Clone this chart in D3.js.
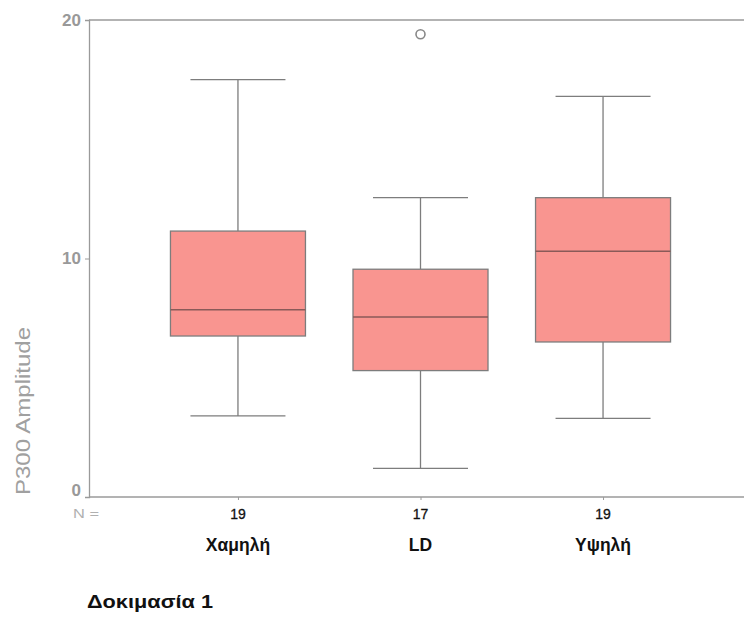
<!DOCTYPE html>
<html><head><meta charset="utf-8">
<script src="https://cdn.jsdelivr.net/npm/d3@7"></script>
<style>body{margin:0;background:#fff;overflow:hidden}svg{display:block}</style>
</head><body>
<script>
const categories = ["Χαμηλή", "LD", "Υψηλή"];
const counts = [19, 17, 19];
const whiskerLow = [3.4, 1.2, 3.3];
const q1 = [6.75, 5.3, 6.5];
const medians = [7.85, 7.55, 10.3];
const q3 = [11.15, 9.55, 12.55];
const whiskerHigh = [17.5, 12.55, 16.8];
const outliers = [[], [19.4], []];
const yTicks = [0, 10, 20];

const W = 744, H = 620;
const FONT = "Arial, Liberation Sans, sans-serif";
const svg = d3.select("body").append("svg").attr("width", W).attr("height", H);
const mLeft = 89, mRight = 752, mTop = 20, mBottom = 497;
const y = d3.scaleLinear().domain([0, 20]).range([mBottom, mTop]);
const x = d3.scalePoint().domain(categories).range([mLeft, mRight]).padding(0.816);
const boxW = 135, capW = 95;
const lineCol = "#7d7d7d";

svg.append("line").attr("x1", mLeft).attr("x2", mRight).attr("y1", mTop).attr("y2", mTop).attr("stroke", "#9a9a9a").attr("stroke-width", 1.3);
svg.append("line").attr("x1", mLeft).attr("x2", mRight).attr("y1", mBottom).attr("y2", mBottom).attr("stroke", "#9a9a9a").attr("stroke-width", 1.3);

const yAxis = svg.append("g").attr("transform", `translate(${mLeft},0)`)
  .call(d3.axisLeft(y).tickValues(yTicks).tickSize(4).tickPadding(4));
yAxis.select(".domain").attr("stroke", "#9a9a9a").attr("stroke-width", 1.3);
yAxis.selectAll(".tick line").attr("stroke", "#9a9a9a");
yAxis.selectAll(".tick text").attr("fill", "#999").attr("font-family", FONT).attr("font-size", 17).attr("font-weight", "bold")
  .attr("dy", d => d === 0 ? "-0.1em" : "0.32em");

const xAxis = svg.append("g").attr("transform", `translate(0,${mBottom})`)
  .call(d3.axisBottom(x).tickSize(3).tickFormat(""));
xAxis.select(".domain").remove();
xAxis.selectAll(".tick line").attr("stroke", "#9a9a9a");

svg.append("text").attr("transform", `translate(30,411) rotate(-90)`).attr("text-anchor", "middle")
  .attr("font-family", FONT).attr("font-size", 20).attr("fill", "#a0a0a0")
  .attr("textLength", 168).attr("lengthAdjust", "spacingAndGlyphs").text("P300 Amplitude");

const g = svg.append("g");
categories.forEach((c, i) => {
  const cx = x(c);
  g.append("line").attr("x1", cx).attr("x2", cx).attr("y1", y(whiskerHigh[i])).attr("y2", y(q3[i])).attr("stroke", lineCol).attr("stroke-width", 1.3);
  g.append("line").attr("x1", cx).attr("x2", cx).attr("y1", y(q1[i])).attr("y2", y(whiskerLow[i])).attr("stroke", lineCol).attr("stroke-width", 1.3);
  g.append("line").attr("x1", cx - capW/2).attr("x2", cx + capW/2).attr("y1", y(whiskerHigh[i])).attr("y2", y(whiskerHigh[i])).attr("stroke", lineCol).attr("stroke-width", 1.3);
  g.append("line").attr("x1", cx - capW/2).attr("x2", cx + capW/2).attr("y1", y(whiskerLow[i])).attr("y2", y(whiskerLow[i])).attr("stroke", lineCol).attr("stroke-width", 1.3);
  g.append("rect").attr("x", cx - boxW/2).attr("width", boxW).attr("y", y(q3[i])).attr("height", y(q1[i]) - y(q3[i]))
    .attr("fill", "#f99590").attr("stroke", lineCol).attr("stroke-width", 1.3);
  g.append("line").attr("x1", cx - boxW/2).attr("x2", cx + boxW/2).attr("y1", y(medians[i])).attr("y2", y(medians[i])).attr("stroke", "#8a5a58").attr("stroke-width", 1.5);
  outliers[i].forEach(v => {
    g.append("circle").attr("cx", cx).attr("cy", y(v)).attr("r", 4.5).attr("fill", "none").attr("stroke", "#888").attr("stroke-width", 1.6);
  });
  svg.append("text").attr("x", cx).attr("y", 519).attr("text-anchor", "middle").attr("font-family", FONT)
    .attr("font-size", 14).attr("fill", "#111").attr("stroke", "#111").attr("stroke-width", 0.3).text(counts[i]);
  svg.append("text").attr("x", cx).attr("y", 551).attr("text-anchor", "middle").attr("font-family", FONT)
    .attr("font-size", 17.5).attr("font-weight", "bold").attr("fill", "#111").text(c);
});

svg.append("text").attr("x", 73).attr("y", 518).attr("font-family", FONT).attr("font-size", 13).attr("fill", "#b0b0b0")
  .attr("textLength", 26).attr("lengthAdjust", "spacingAndGlyphs").text("N =");
svg.append("text").attr("x", 87).attr("y", 608).attr("font-family", FONT).attr("font-size", 19).attr("font-weight", "bold")
  .attr("fill", "#111").attr("textLength", 126).attr("lengthAdjust", "spacingAndGlyphs").text("Δοκιμασία 1");
</script>
</body></html>
